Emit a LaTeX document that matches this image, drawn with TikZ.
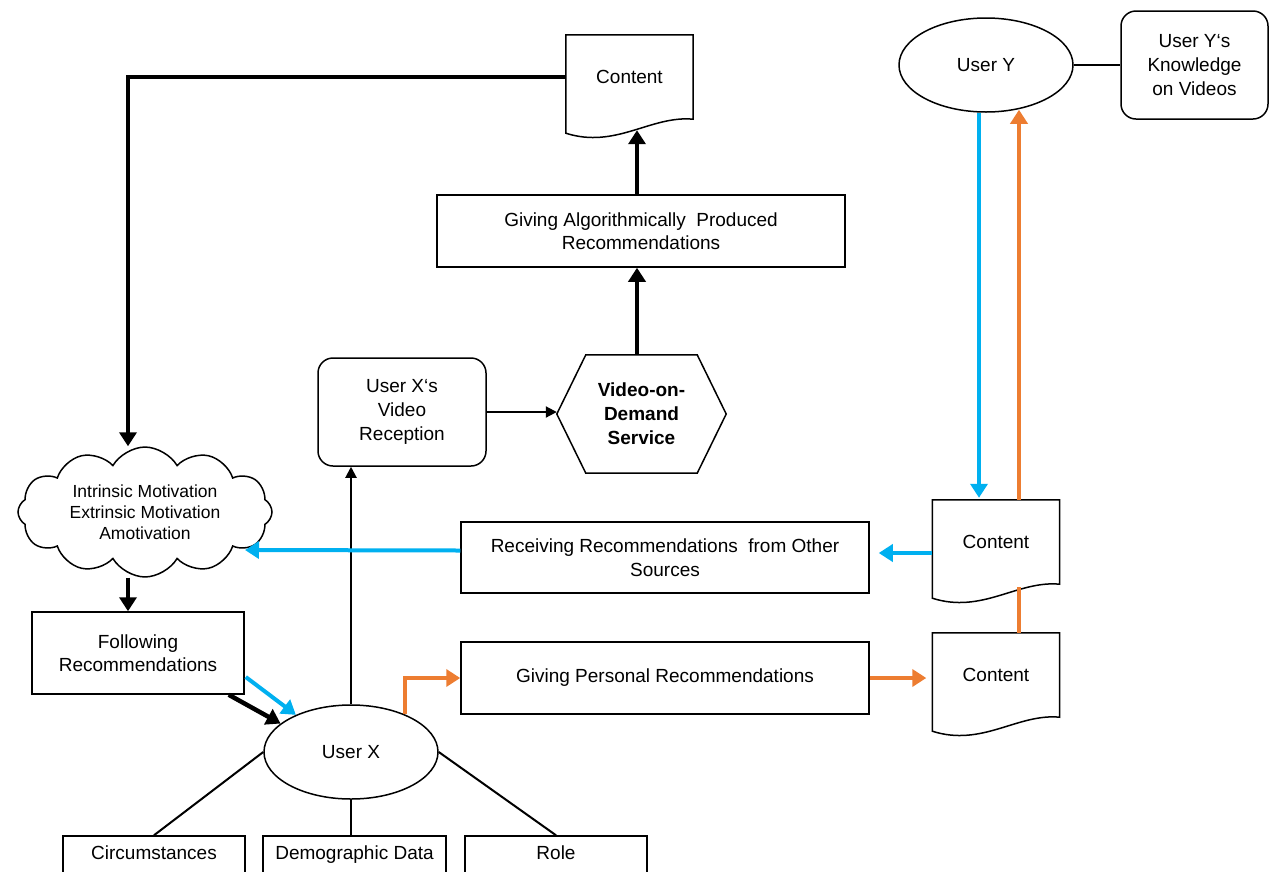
\documentclass[tikz,border=0pt]{standalone}
\usepackage{fontspec}
\setmainfont{Liberation Sans}
\usetikzlibrary{arrows.meta,shapes.symbols,shapes.geometric,calc}
\definecolor{cblue}{RGB}{0,176,240}
\definecolor{corange}{RGB}{237,125,49}
\newcommand\mydocshape[1]{%
  \draw[line width=1.5pt] ($(#1.south west)+(0,14)$) -- (#1.north west) -- (#1.north east) -- (#1.south east)
    .. controls ($(#1.south west)+(85,-4)$) and ($(#1.south west)+(50,30)$) .. ($(#1.south west)+(0,14)$) -- cycle;}
\begin{document}
\begin{tikzpicture}[x=1pt,y=-1pt,
  every node/.style={font=\fontsize{19}{23.5}\selectfont, align=center, inner sep=0pt},
  box/.style={draw, line width=1.5pt, rectangle},
  rbox/.style={box, rounded corners=15pt},
  lowbox/.style={box, minimum height=38pt, text height=13.5pt, text depth=4pt},
  ell/.style={draw, ellipse, line width=1.5pt, minimum width=174pt, minimum height=94pt},
  doc/.style={minimum width=127pt, minimum height=84pt},
  karrow/.style={line width=4.5pt, -{Triangle[length=14pt,width=17pt]}},
  tarrow/.style={line width=2pt, -{Triangle[length=11pt,width=11pt]}},
  barrow/.style={line width=4pt, cblue, -{Triangle[length=14pt,width=17pt]}},
  oarrow/.style={line width=4pt, corange, -{Triangle[length=14pt,width=17pt]}},
  oline/.style={line width=4pt, corange},
  tline/.style={line width=2pt}
]
\useasboundingbox (0,0) rectangle (1269,871);

% nodes
\node[doc] (c1) at (629.5,77) {Content};
\node[doc] (c2) at (996,542) {Content};
\node[doc] (c3) at (996,675) {Content};
\mydocshape{c1}
\mydocshape{c2}
\mydocshape{c3}

\node[box, minimum width=408pt, minimum height=72pt] (gar) at (641,231) {Giving Algorithmically\ \ Produced\\Recommendations};
\node[minimum width=169pt, minimum height=118pt, font=\fontsize{19}{24}\selectfont\bfseries] (vod) at (641.5,414) {Video-on-\\Demand\\Service};
\draw[line width=1.5pt] (vod.west) -- ($(vod.north west)+(29,0)$) -- ($(vod.north east)+(-29,0)$) -- (vod.east)
  -- ($(vod.south east)+(-29,0)$) -- ($(vod.south west)+(29,0)$) -- cycle;
\node[rbox, minimum width=168pt, minimum height=108pt, font=\fontsize{19}{24}\selectfont] (vr) at (402,412) {User X‘s\\Video\\Reception};
\node[rbox, minimum width=147pt, minimum height=108pt, font=\fontsize{19}{24}\selectfont] (kn) at (1194.5,65) {User Y‘s\\Knowledge\\on Videos};
\node[ell] (uy) at (986,65) {User Y};
\node[ell] (ux) at (351,752) {User X};
\node[cloud, draw, line width=1.5pt, cloud puffs=12, cloud puff arc=120, aspect=2.1, minimum width=254pt, minimum height=122pt,
  font=\fontsize{17.5}{21}\selectfont] (cl) at (145,512) {Intrinsic Motivation\\Extrinsic Motivation\\Amotivation};
\node[box, minimum width=212pt, minimum height=82pt] (fol) at (138,653) {Following\\Recommendations};
\node[box, minimum width=408pt, minimum height=71pt] (rec) at (665,557.5) {Receiving Recommendations\ \ from Other\\Sources};
\node[box, minimum width=408pt, minimum height=72pt] (gpr) at (665,678) {Giving Personal Recommendations};
\node[lowbox, minimum width=182pt] (circ) at (154,855) {Circumstances};
\node[lowbox, minimum width=183pt] (demo) at (354.5,855) {Demographic Data};
\node[lowbox, minimum width=182pt] (role) at (556,855) {Role};

% helper coordinates
\coordinate (k) at (128,0);
\coordinate (ax) at (637,0);
\coordinate (clr) at (245,550);
\coordinate (c3w) at ($(c3.west)+(-6,0)$);

% connectors
\draw[karrow] (c1.west) -| (k |- cl.north);
\draw[karrow] (k |- cl.south) -- (k |- fol.north);
\draw[karrow] (vod.north -| ax) -- (gar.south -| ax);
\draw[karrow] (gar.north -| ax) -- ($(c1.south -| ax)+(0,11)$);
\draw[tarrow] (vr.east) -- (vr.east -| vod.west);
\draw[tarrow] (ux.north) -- (ux.north |- vr.south);
\draw[karrow] ($(fol.south east)+(-16,0)$) -- (ux.158);
\draw[barrow] ($(fol.east)+(1,24)$) -- (ux.146);
\draw[oarrow] (ux.35) |- (gpr.west);
\draw[oarrow] (gpr.east) -- (gpr.east -| c3w);
\draw[barrow] ([yshift=7pt]rec.west) -- (clr);
\draw[barrow] ($(c2.west)+(0,11)$) -- ($(rec.east)+(9,-4.5)$);
\draw[barrow] ($(uy.south)+(-7,0)$) -- ($(c2.north)+(-17,-2)$);
\draw[oarrow] ($(c2.north)+(23,0)$) -- ($(uy.south)+(33,-3)$);
\draw[oline] ($(c3.north)+(23,0)$) -- ($(c2.south)+(23,3)$);
\draw[tline] (uy.east) -- (kn.west);
\draw[tline] (ux.west) -- (circ.north);
\draw[tline] (ux.south) -- (ux.south |- demo.north);
\draw[tline] (ux.east) -- (role.north);
\end{tikzpicture}
\end{document}
